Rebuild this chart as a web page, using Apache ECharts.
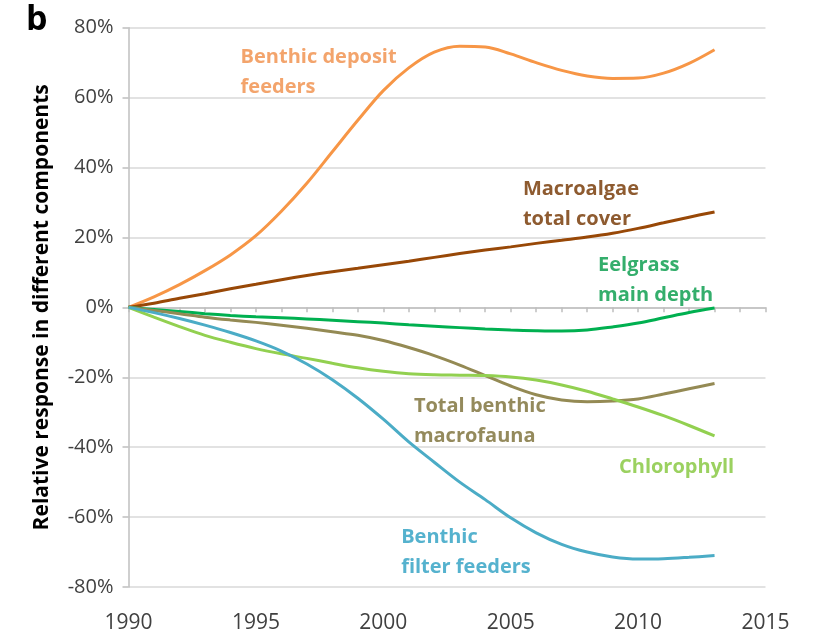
<!DOCTYPE html>
<html>
<head>
<meta charset="utf-8">
<script src="https://cdn.jsdelivr.net/npm/echarts@6/dist/echarts.min.js"></script>
<style>
  html, body { margin: 0; padding: 0; background: #fff; }
  #chart { width: 815px; height: 634px; }
</style>
</head>
<body>
<div id="chart"></div>
<script>
// Years of the assessment period
const years = [1990,1991,1992,1993,1994,1995,1996,1997,1998,1999,2000,2001,2002,2003,2004,2005,2006,2007,2008,2009,2010,2011,2012,2013];

// Relative response of each component (%), relative to 1990
const depositFeeders = [0,3,6.5,10.5,15,20.5,27.5,35.5,44.5,53.5,62,68.5,73,74.7,74.5,72.5,70,67.8,66.2,65.5,65.6,67.0,69.8,73.7];
const macroalgae     = [0,1.2,2.6,3.9,5.3,6.6,7.9,9.1,10.2,11.2,12.2,13.2,14.3,15.4,16.4,17.3,18.3,19.2,20.1,21.2,22.6,24.2,25.8,27.3];
const eelgrass       = [0,-0.6,-1.2,-1.8,-2.3,-2.7,-3.0,-3.3,-3.7,-4.1,-4.5,-5.0,-5.4,-5.8,-6.2,-6.5,-6.7,-6.8,-6.5,-5.6,-4.5,-3.0,-1.5,-0.2];
const macrofauna     = [0,-0.9,-1.8,-2.8,-3.6,-4.3,-5.1,-6.0,-7.0,-8.0,-9.5,-11.5,-13.8,-16.5,-19.5,-22.5,-25,-26.5,-27,-26.8,-26.2,-24.8,-23.3,-21.8];
const chlorophyll    = [0,-2.8,-5.5,-8.0,-10.0,-11.8,-13.3,-14.6,-16.0,-17.3,-18.3,-19.0,-19.3,-19.4,-19.5,-19.9,-20.8,-22.2,-24.0,-26.2,-28.5,-31.0,-33.8,-36.8];
const filterFeeders  = [0,-1.5,-3.2,-5.1,-7.2,-9.6,-12.5,-16.2,-20.7,-26.0,-32.0,-38.5,-44.3,-50.0,-55.0,-60.2,-64.5,-67.8,-70.0,-71.4,-72.0,-71.9,-71.5,-71.0];

// Axis ticks
const xTicks = [1990, 1995, 2000, 2005, 2010, 2015];
const yTicks = [-80, -60, -40, -20, 0, 20, 40, 60, 80];

const FONT = '"Open Sans", "Noto Sans", sans-serif';

const seriesDefs = [
  { name: 'Benthic deposit feeders', values: depositFeeders, color: '#F79646', textColor: '#F3A46C', label: 'Benthic deposit\nfeeders', at: [1994.4, 71.4] },
  { name: 'Macroalgae total cover', values: macroalgae, color: '#984807', textColor: '#8E5B30', label: 'Macroalgae\ntotal cover', at: [2005.48, 33.9] },
  { name: 'Eelgrass main depth', values: eelgrass, color: '#00B050', textColor: '#34AE6C', label: 'Eelgrass\nmain depth', at: [2008.43, 12.0] },
  { name: 'Total benthic macrofauna', values: macrofauna, color: '#948A54', textColor: '#948A5C', label: 'Total benthic\nmacrofauna', at: [2001.2, -28.2] },
  { name: 'Chlorophyll', values: chlorophyll, color: '#92D050', textColor: '#9BD160', label: 'Chlorophyll', at: [2009.25, -45.8] },
  { name: 'Benthic filter feeders', values: filterFeeders, color: '#4BACC6', textColor: '#55B2CE', label: 'Benthic\nfilter feeders', at: [2000.7, -65.7] }
];

const chart = echarts.init(document.getElementById('chart'), null, { renderer: 'canvas' });

const option = {
  animation: false,
  backgroundColor: '#ffffff',
  grid: { left: 128.5, right: 49.5, top: 27.7, bottom: 44, containLabel: false },
  xAxis: {
    type: 'value',
    min: xTicks[0],
    max: xTicks[xTicks.length - 1],
    interval: 5,
    axisLine: { show: true, lineStyle: { color: '#BFBFBF', width: 1.5 } },
    axisTick: { show: true, length: 5, lineStyle: { color: '#BFBFBF', width: 1.5 } },
    minorTick: { show: true, splitNumber: 5, length: 5, lineStyle: { color: '#BFBFBF', width: 1.5 } },
    splitLine: { show: false },
    axisLabel: { color: '#404040', fontFamily: FONT, fontSize: 21, margin: 26, formatter: v => String(v) }
  },
  yAxis: {
    type: 'value',
    min: yTicks[0],
    max: yTicks[yTicks.length - 1],
    interval: 20,
    name: 'Relative response in different components',
    nameLocation: 'middle',
    nameGap: 76,
    nameTextStyle: { color: '#000', fontFamily: FONT, fontWeight: 'bold', fontSize: 21 },
    axisLine: { show: true, lineStyle: { color: '#BFBFBF', width: 1.5 } },
    axisTick: { show: true, length: 6, lineStyle: { color: '#BFBFBF', width: 1.5 } },
    splitLine: { show: true, lineStyle: { color: '#D9D9D9', width: 1.5 } },
    axisLabel: { color: '#404040', fontFamily: FONT, fontSize: 20, margin: 15, formatter: v => v + '%' }
  },
  series: seriesDefs.map(s => ({
    name: s.name,
    type: 'line',
    data: years.map((y, i) => [y, s.values[i]]),
    smooth: 0.35,
    showSymbol: false,
    symbol: 'none',
    lineStyle: { color: s.color, width: 3 },
    itemStyle: { color: s.color },
    z: 3
  }))
};

chart.setOption(option);

// Inline series labels, anchored in data coordinates
const graphics = seriesDefs.map(s => {
  const p = chart.convertToPixel({ gridIndex: 0 }, s.at);
  return {
    type: 'text',
    x: p[0],
    y: p[1] - 15,
    z: 10,
    style: {
      text: s.label,
      fill: s.textColor,
      font: 'bold 20px ' + FONT,
      lineHeight: 30,
      align: 'left',
      verticalAlign: 'top'
    }
  };
});

// Panel letter
graphics.push({
  type: 'text',
  x: 26,
  y: 3,
  z: 10,
  style: { text: 'b', fill: '#000', font: 'bold 34px ' + FONT, align: 'left', verticalAlign: 'top' }
});

chart.setOption({ graphic: graphics });
</script>
</body>
</html>
